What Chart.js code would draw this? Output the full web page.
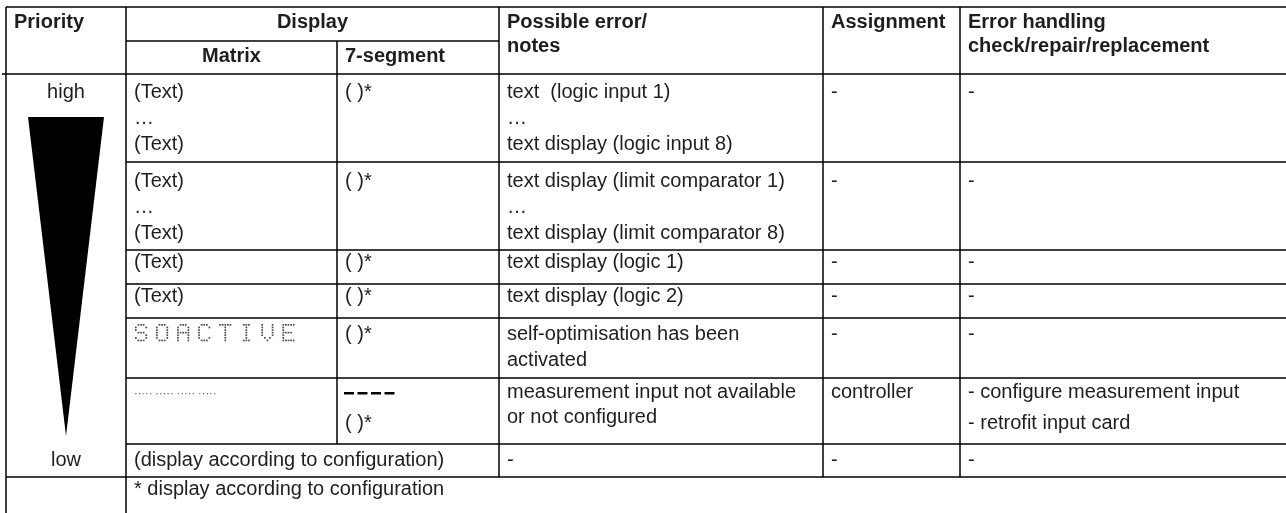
<!DOCTYPE html>
<html>
<head>
<meta charset="utf-8">
<script src="https://cdn.jsdelivr.net/npm/chart.js@4.4.1/dist/chart.umd.min.js"></script>
<style>
  html, body { margin: 0; padding: 0; background: #fff; }
  #wrap { width: 1286px; height: 513px; }
</style>
</head>
<body>
<div id="wrap"><canvas id="errTable" width="1286" height="513"></canvas></div>
<script>
// table content
const headers = ['Priority', 'Display', 'Possible error/\nnotes', 'Assignment', 'Error handling\ncheck/repair/replacement'];
const displayHeaders = ['Matrix', '7-segment'];
const priorityLabels = ['high', 'low'];
const matrixTexts = ['(Text)\n…\n(Text)', '(Text)\n…\n(Text)', '(Text)', '(Text)', 'SOACTIVE', '····· ····· ····· ·····'];
const segmentTexts = ['( )*', '( )*', '( )*', '( )*', '( )*', '----\n( )*'];
const noteTexts = [
  'text  (logic input 1)\n…\ntext display (logic input 8)',
  'text display (limit comparator 1)\n…\ntext display (limit comparator 8)',
  'text display (logic 1)',
  'text display (logic 2)',
  'self-optimisation has been\nactivated',
  'measurement input not available\nor not configured'
];
const assignments = ['-', '-', '-', '-', '-', 'controller'];
const handling = ['-', '-', '-', '-', '-', '- configure measurement input\n- retrofit input card'];
const lowRow = ['(display according to configuration)', '-', '-', '-'];
const footnote = '* display according to configuration';

// layout (table units = pixels of the chart area)
const colX = [6, 126, 337, 499, 823, 960, 1286];
const rowY = [74, 162, 250, 284, 318, 378, 444, 477, 513];
const headTop = 7, headMid = 41;
const firstBase = [24, 25, 18, 18, 22, 20, 22, 18];
const lineStep = 26, headStep = 24, listStep = 31, padX = 8;
const FONT = '"Liberation Sans", Arial, Helvetica, sans-serif';
const INK = '#1e1e1e';

// 5x7 dot matrix glyphs for the matrix display text
const dotGlyphs = {
  S: ['.###.', '#...#', '#....', '.###.', '....#', '#...#', '.###.'],
  O: ['.###.', '#...#', '#...#', '#...#', '#...#', '#...#', '.###.'],
  A: ['.###.', '#...#', '#...#', '#####', '#...#', '#...#', '#...#'],
  C: ['.###.', '#...#', '#....', '#....', '#....', '#...#', '.###.'],
  T: ['#####', '..#..', '..#..', '..#..', '..#..', '..#..', '..#..'],
  I: ['.###.', '..#..', '..#..', '..#..', '..#..', '..#..', '.###.'],
  V: ['#...#', '#...#', '#...#', '#...#', '#...#', '.#.#.', '..#..'],
  E: ['#####', '#....', '#....', '####.', '#....', '#....', '#####']
};

const tablePlugin = {
  id: 'tablePlugin',
  afterDraw(chart) {
    const ctx = chart.ctx;
    const X = v => chart.scales.x.getPixelForValue(v);
    const Y = v => chart.scales.y.getPixelForValue(v);
    ctx.save();

    // grid lines
    ctx.strokeStyle = '#000';
    ctx.lineWidth = 1.5;
    const hLine = (y, x0, x1) => { ctx.beginPath(); ctx.moveTo(X(x0), Y(y)); ctx.lineTo(X(x1), Y(y)); ctx.stroke(); };
    const vLine = (x, y0, y1) => { ctx.beginPath(); ctx.moveTo(X(x), Y(y0)); ctx.lineTo(X(x), Y(y1)); ctx.stroke(); };
    hLine(headTop, colX[0], colX[6]);
    hLine(headMid, colX[1], colX[3]);
    hLine(rowY[0], 2, colX[6]);
    for (let i = 1; i <= 6; i++) hLine(rowY[i], colX[1], colX[6]);
    hLine(rowY[7], colX[0], colX[6]);
    vLine(colX[0], headTop, rowY[8]);
    vLine(colX[1], headTop, rowY[8]);
    vLine(colX[2], headMid, rowY[6]);
    for (let c = 3; c <= 5; c++) vLine(colX[c], headTop, rowY[7]);

    // priority wedge
    const cx = (colX[0] + colX[1]) / 2;
    ctx.fillStyle = '#000';
    ctx.beginPath();
    ctx.moveTo(X(cx - 38), Y(117));
    ctx.lineTo(X(cx + 38), Y(117));
    ctx.lineTo(X(cx), Y(436));
    ctx.closePath();
    ctx.fill();

    const text = (s, x, y, align) => {
      ctx.textAlign = align || 'left';
      ctx.fillText(s, X(x), Y(y));
    };
    const lines = (s, x, y, step) => {
      s.split('\n').forEach((t, k) => text(t, x, y + k * step));
    };

    // header
    ctx.fillStyle = INK;
    ctx.textBaseline = 'alphabetic';
    ctx.font = 'bold 20px ' + FONT;
    text(headers[0], colX[0] + padX, 28);
    text(headers[1], (colX[1] + colX[3]) / 2, 28, 'center');
    lines(headers[2], colX[3] + padX, 28, headStep);
    text(headers[3], colX[4] + padX, 28);
    lines(headers[4], colX[5] + padX, 28, headStep);
    text(displayHeaders[0], (colX[1] + colX[2]) / 2, 62, 'center');
    text(displayHeaders[1], colX[2] + padX, 62);

    // body
    ctx.font = '20px ' + FONT;
    text(priorityLabels[0], cx, rowY[0] + firstBase[0], 'center');
    text(priorityLabels[1], cx, rowY[6] + firstBase[6], 'center');

    for (let r = 0; r < 6; r++) {
      const base = rowY[r] + firstBase[r];
      const m = matrixTexts[r];
      if (m === 'SOACTIVE') {
        drawDots(ctx, m, X(colX[1] + 9), Y(base - 16), 2.6, '#4a4a4a');
      } else if (m.startsWith('·')) {
        ctx.font = '11px ' + FONT;
        ctx.fillStyle = '#555';
        text(m, colX[1] + padX, base - 1);
        ctx.font = '20px ' + FONT;
        ctx.fillStyle = INK;
      } else {
        lines(m, colX[1] + padX, base, lineStep);
      }
      segmentTexts[r].split('\n').forEach((t, k) => {
        const y = base + k * listStep;
        if (/^-+$/.test(t)) {
          ctx.fillStyle = '#000';
          for (let d = 0; d < t.length; d++) {
            ctx.fillRect(X(colX[2] + padX - 1 + d * 13.5), Y(y - 6), 10, 2.5);
          }
          ctx.fillStyle = INK;
        } else {
          text(t, colX[2] + padX, y);
        }
      });
      lines(noteTexts[r], colX[3] + padX, base, r === 5 ? 25 : lineStep);
      lines(assignments[r], colX[4] + padX, base, lineStep);
      lines(handling[r], colX[5] + padX, base, listStep);
    }

    const lowBase = rowY[6] + firstBase[6];
    text(lowRow[0], colX[1] + padX, lowBase);
    text(lowRow[1], colX[3] + padX, lowBase);
    text(lowRow[2], colX[4] + padX, lowBase);
    text(lowRow[3], colX[5] + padX, lowBase);
    text(footnote, colX[1] + padX, rowY[7] + firstBase[7]);

    ctx.restore();
  }
};

function drawDots(ctx, str, x0, y0, pitch, color) {
  ctx.fillStyle = color;
  const dot = pitch * 0.65;
  let x = x0;
  for (const ch of str) {
    const g = dotGlyphs[ch];
    if (g) {
      g.forEach((row, j) => {
        for (let i = 0; i < row.length; i++) {
          if (row[i] === '#') ctx.fillRect(x + i * pitch, y0 + j * pitch, dot, dot);
        }
      });
    }
    x += pitch * 8.1;
  }
  ctx.fillStyle = INK;
}

const chart = new Chart(document.getElementById('errTable').getContext('2d'), {
  type: 'scatter',
  data: { datasets: [] },
  options: {
    responsive: false,
    animation: false,
    devicePixelRatio: 1,
    layout: { padding: 0 },
    plugins: { legend: { display: false }, tooltip: { enabled: false } },
    scales: {
      x: { type: 'linear', min: 0, max: 1286, display: false },
      y: { type: 'linear', min: 0, max: 513, reverse: true, display: false }
    }
  },
  plugins: [tablePlugin]
});
</script>
</body>
</html>
